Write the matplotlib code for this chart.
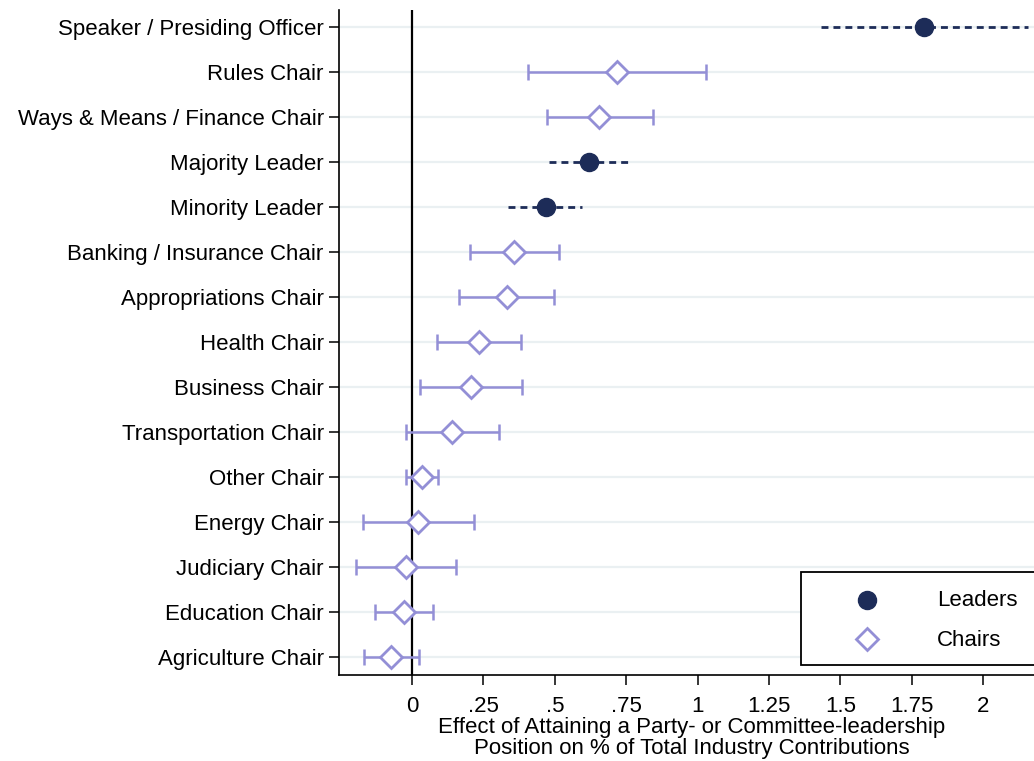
import matplotlib
matplotlib.use("Agg")
import matplotlib.pyplot as plt
from matplotlib.patches import Rectangle
from matplotlib.lines import Line2D

# coefficient estimates and 95% CIs, top row first
labels = [
    "Speaker / Presiding Officer", "Rules Chair", "Ways & Means / Finance Chair",
    "Majority Leader", "Minority Leader", "Banking / Insurance Chair",
    "Appropriations Chair", "Health Chair", "Business Chair",
    "Transportation Chair", "Other Chair", "Energy Chair", "Judiciary Chair",
    "Education Chair", "Agriculture Chair",
]
group = ["L", "C", "C", "L", "L", "C", "C", "C", "C", "C", "C", "C", "C", "C", "C"]
coef = [1.794, 0.717, 0.656, 0.621, 0.468, 0.357, 0.331, 0.235, 0.206,
        0.140, 0.035, 0.022, -0.021, -0.029, -0.072]
lo = [1.432, 0.406, 0.473, 0.481, 0.337, 0.202, 0.165, 0.089, 0.028,
      -0.021, -0.021, -0.170, -0.195, -0.130, -0.169]
hi = [2.157, 1.028, 0.843, 0.763, 0.596, 0.514, 0.498, 0.381, 0.385,
      0.304, 0.090, 0.216, 0.153, 0.072, 0.026]

xticks = [0, 0.25, 0.5, 0.75, 1, 1.25, 1.5, 1.75, 2]
xticklabels = ["0", ".25", ".5", ".75", "1", "1.25", "1.5", "1.75", "2"]

navy = "#1d2c58"
purple = "#938fd6"
grid_c = "#eaf0f2"

plt.rcParams["font.family"] = ["Liberation Sans", "DejaVu Sans"]
fs = 16

W, H = 1034, 761
fig = plt.figure(figsize=(W / 100, H / 100), dpi=100)
ax = fig.add_axes([339 / W, 86 / H, (W - 339) / W, 665 / H])

n = len(labels)
ypos = [n - i for i in range(n)]

for y in ypos:
    ax.axhline(y, color=grid_c, lw=1.6, zorder=0)
ax.axvline(0, color="black", lw=1.6, zorder=1)

for i in range(n):
    y = ypos[i]
    if group[i] == "L":
        ax.plot([lo[i], hi[i]], [y, y], color=navy, lw=2, dashes=(2.5, 1.8),
                zorder=2)
        ax.plot(coef[i], y, "o", color=navy, ms=13, zorder=3)
    else:
        ax.errorbar(coef[i], y, xerr=[[coef[i] - lo[i]], [hi[i] - coef[i]]],
                    fmt="none", ecolor=purple, elinewidth=1.8, capsize=5.5,
                    capthick=1.8, zorder=2)
        ax.plot(coef[i], y, "D", mfc="white", mec=purple, mew=2, ms=11.5,
                zorder=3)

ax.set_xlim(-0.2556, (W - 412) / 285.6)
ax.set_ylim(0.6, 15.38)
ax.set_yticks(ypos)
ax.set_yticklabels(labels, fontsize=fs)
ax.set_xticks(xticks)
ax.set_xticklabels(xticklabels, fontsize=fs)
for s in ["top", "right"]:
    ax.spines[s].set_visible(False)
for s in ["left", "bottom"]:
    ax.spines[s].set_linewidth(1.2)
ax.tick_params(axis="both", length=7, width=1.1, direction="out")
ax.tick_params(axis="y", pad=4)
ax.tick_params(axis="x", pad=8)

fig.text(692 / W, 1 - 738 / H,
         "Effect of Attaining a Party- or Committee-leadership\n"
         "Position on % of Total Industry Contributions",
         fontsize=fs, ha="center", va="center", linespacing=0.95)

# legend box drawn in figure pixels, running off the right edge
fig.add_artist(Rectangle((801 / W, 1 - 665 / H), 300 / W, 93 / H,
                         transform=fig.transFigure, facecolor="white",
                         edgecolor="black", lw=1.3, zorder=5))
fig.add_artist(Line2D([867 / W], [1 - 600 / H], marker="o", color=navy,
                      ms=13, transform=fig.transFigure, zorder=6))
fig.add_artist(Line2D([867 / W], [1 - 639 / H], marker="D", mfc="white",
                      mec=purple, mew=2, ms=11.5, transform=fig.transFigure,
                      zorder=6))
fig.text(937 / W, 1 - 600 / H, "Leaders", fontsize=fs, va="center",
         zorder=6)
fig.text(937 / W, 1 - 640 / H, "Chairs", fontsize=fs, va="center", zorder=6)

fig.savefig("out.png", dpi=100)
